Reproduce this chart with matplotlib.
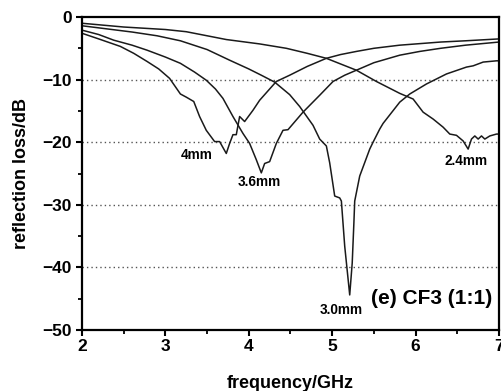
import matplotlib
matplotlib.use("Agg")
import matplotlib.pyplot as plt
from matplotlib.ticker import MultipleLocator

# (frequency in GHz, RL in dB)
x_24 = [2.0, 2.5, 3.0, 3.25, 3.5, 3.73, 4.13, 4.45, 4.7, 4.93, 5.1, 5.29, 5.53, 5.81, 5.97, 6.09,
        6.21, 6.33, 6.41, 6.49, 6.57, 6.63, 6.67, 6.71, 6.75, 6.79, 6.83, 6.89, 6.97, 7.0]
y_24 = [-1.0, -1.6, -2.0, -2.35, -3.0, -3.6, -4.3, -5.0, -5.8, -6.6, -7.5, -8.5, -10.3, -12.2, -13.1, -15.2,
        -16.3, -17.6, -18.7, -18.9, -19.8, -21.1, -19.5, -19.0, -19.5, -19.0, -19.5, -19.0, -18.7, -18.7]

x_30 = [2.0, 2.3, 2.6, 2.9, 3.18, 3.5, 3.77, 4.0, 4.15, 4.31, 4.49, 4.61, 4.77, 4.85, 4.93, 4.97,
        5.03, 5.09, 5.11, 5.15, 5.21, 5.24, 5.26, 5.27, 5.33, 5.45, 5.49, 5.57, 5.61, 5.81, 5.93,
        6.13, 6.37, 6.61, 6.69, 6.81, 6.97, 7.0]
y_30 = [-1.4, -1.9, -2.4, -3.0, -3.8, -5.2, -6.9, -8.3, -9.3, -10.4, -12.4, -14.3, -17.3, -19.5, -20.6, -23.3,
        -28.6, -28.9, -29.4, -36.6, -44.4, -39.3, -32.9, -29.4, -25.4, -21.1, -20.0, -17.9, -17.0, -13.6, -12.3,
        -10.7, -9.1, -8.0, -7.8, -7.2, -7.0, -7.0]

x_36 = [2.0, 2.2, 2.38, 2.6, 2.78, 3.0, 3.18, 3.35, 3.49, 3.6, 3.69, 3.81, 3.93, 4.01, 4.09, 4.15,
        4.19, 4.25, 4.33, 4.41, 4.47, 4.65, 4.85, 5.01, 5.15, 5.29, 5.5, 5.81, 6.05, 6.3, 6.6, 7.0]
y_36 = [-2.1, -2.8, -3.7, -4.5, -5.3, -6.4, -7.4, -8.8, -10.1, -11.5, -13.0, -15.9, -18.6, -20.2, -22.8, -24.9,
        -23.4, -23.1, -20.2, -18.1, -18.0, -15.2, -12.5, -10.3, -9.3, -8.5, -7.3, -6.1, -5.5, -5.0, -4.5, -4.0]

x_40 = [2.0, 2.2, 2.46, 2.62, 2.78, 2.92, 3.05, 3.18, 3.25, 3.34, 3.41, 3.49, 3.59, 3.65, 3.73, 3.77,
        3.81, 3.85, 3.89, 3.95, 4.05, 4.13, 4.25, 4.33, 4.49, 4.7, 4.93, 5.1, 5.29, 5.5, 5.81, 6.3,
        6.6, 7.0]
y_40 = [-2.6, -3.5, -4.7, -5.8, -7.1, -8.3, -9.8, -12.3, -12.8, -13.5, -15.9, -18.1, -19.9, -19.9, -21.8, -20.2,
        -18.8, -18.8, -15.9, -16.7, -14.9, -13.3, -11.5, -10.3, -9.3, -7.9, -6.6, -6.0, -5.5, -5.0, -4.5, -4.0,
        -3.8, -3.5]

curves = [(x_24, y_24), (x_30, y_30), (x_36, y_36), (x_40, y_40)]

labels = ["4mm", "3.6mm", "3.0mm", "2.4mm"]
label_x = [3.38, 4.13, 5.11, 6.61]
label_y = [-22.0, -26.4, -46.8, -23.0]

plt.rcParams['font.family'] = ['Liberation Sans', 'DejaVu Sans']
plt.rcParams['font.weight'] = 'bold'

fig = plt.figure(figsize=(5.02, 3.91), dpi=100)
ax = fig.add_axes([82/502, 1-330/391, 417/502, 313/391])

for xs, ys in curves:
    ax.plot(xs, ys, color='#1a1a1a', lw=1.1)

for t, lx, ly in zip(labels, label_x, label_y):
    ax.text(lx, ly, t, fontsize=9.8, fontweight='bold', ha='center', va='center')

ax.text(6.19, -44.9, "(e) CF3 (1:1)", fontsize=15, fontweight='bold', ha='center', va='center')

ax.set_xlim(2, 7)
ax.set_ylim(-50, 0)
ax.xaxis.set_major_locator(MultipleLocator(1))
ax.xaxis.set_minor_locator(MultipleLocator(0.5))
ax.yaxis.set_major_locator(MultipleLocator(10))
ax.yaxis.set_minor_locator(MultipleLocator(5))

for yv in [-10, -20, -30, -40]:
    ax.axhline(yv, color='#555555', lw=1.0, linestyle=(0, (1, 2.2)), zorder=0)

for s in ax.spines.values():
    s.set_linewidth(1.6)
ax.tick_params(which='major', direction='out', length=4.5, width=1.5, pad=2, labelsize=12.5)
ax.tick_params(which='minor', direction='out', length=3, width=1.3)
ax.tick_params(axis='y', which='major', pad=3)

ax.set_xlabel("frequency/GHz", fontsize=13, fontweight='bold', labelpad=15)
ax.set_ylabel("reflection loss/dB", fontsize=13, fontweight='bold', labelpad=9)

fig.savefig("out.png", dpi=100)
